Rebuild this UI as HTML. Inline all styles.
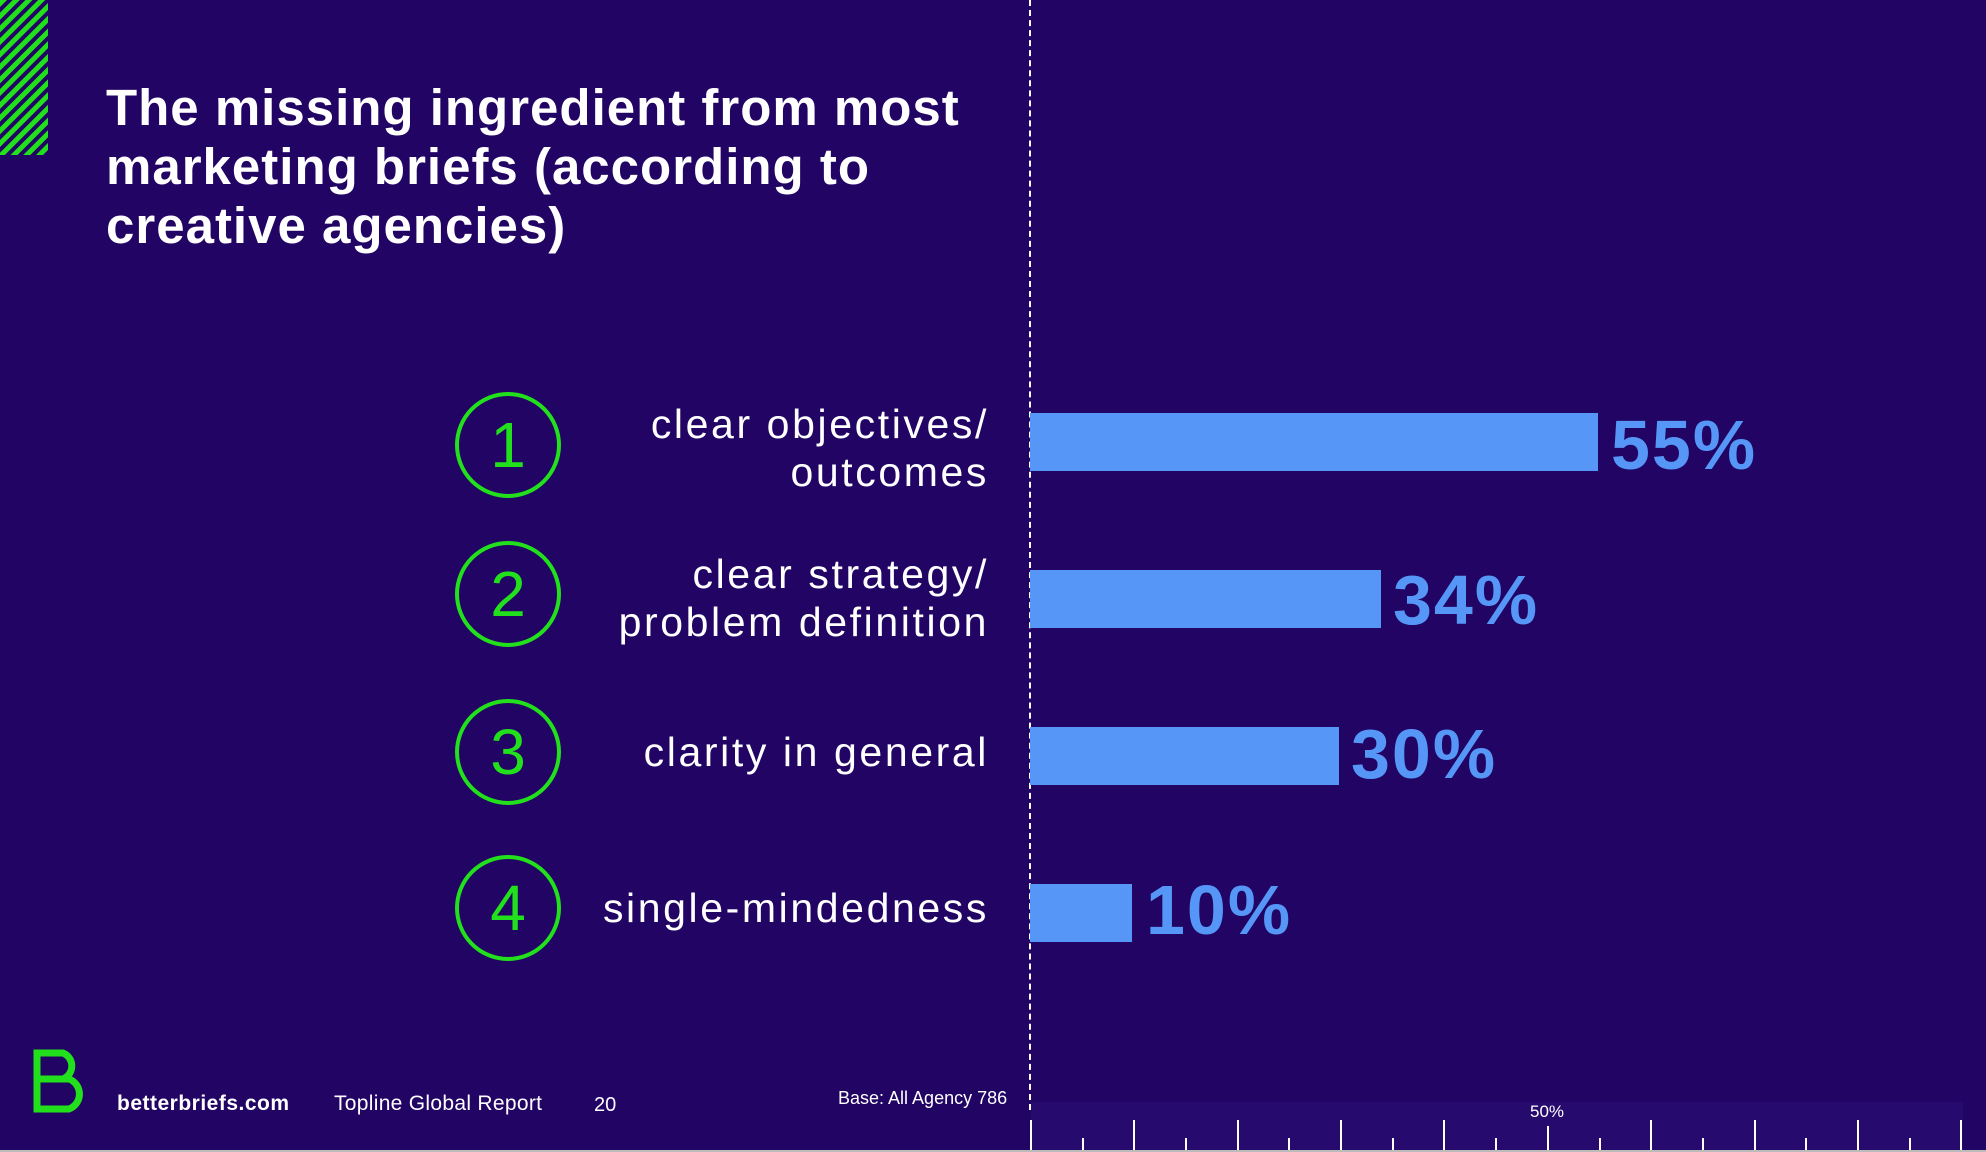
<!DOCTYPE html>
<html><head><meta charset="utf-8"><style>
body{margin:0;width:1986px;height:1152px;background:#210463;overflow:hidden;position:relative;font-family:"Liberation Sans",sans-serif;color:#fff}
.a{position:absolute}
.lbl{position:absolute;right:997px;text-align:right;font-size:41px;line-height:48px;white-space:nowrap;letter-spacing:2.6px}
.circ{position:absolute;left:455px;width:106px;height:106px;border:4px solid #22e01c;border-radius:50%;box-sizing:border-box;color:#22e01c;font-size:64px;text-align:center;line-height:98px}
.bar{position:absolute;left:1030px;height:58px;background:#5596f7}
.val{position:absolute;font-size:70px;font-weight:bold;color:#5596f7;line-height:80px;letter-spacing:2px}
</style></head><body>
<svg class="a" style="left:0;top:0" width="48" height="155"><defs><pattern id="p" width="9" height="9" patternUnits="userSpaceOnUse" patternTransform="rotate(45)"><rect width="9" height="9" fill="#210463"/><rect width="5" height="9" fill="#22e01c"/></pattern></defs><rect width="48" height="155" fill="url(#p)"/></svg>
<div class="a" style="left:106px;top:78px;font-size:51px;font-weight:bold;line-height:59px;letter-spacing:1px">The missing ingredient from most<br>marketing briefs (according to<br>creative agencies)</div>
<div class="a" style="left:1029px;top:0;height:1110px;border-left:2px dashed #fff"></div>

<div class="circ" style="top:392px">1</div>
<div class="circ" style="top:541px">2</div>
<div class="circ" style="top:699px">3</div>
<div class="circ" style="top:855px">4</div>

<div class="lbl" style="top:400px">clear objectives/<br>outcomes</div>
<div class="lbl" style="top:550px">clear strategy/<br>problem definition</div>
<div class="lbl" style="top:728px">clarity in general</div>
<div class="lbl" style="top:884px">single-mindedness</div>

<div class="bar" style="top:413px;width:568px"></div>
<div class="bar" style="top:570px;width:351px"></div>
<div class="bar" style="top:727px;width:309px"></div>
<div class="bar" style="top:884px;width:102px"></div>
<div class="val" style="left:1611px;top:405px">55%</div>
<div class="val" style="left:1393px;top:560px">34%</div>
<div class="val" style="left:1351px;top:714px">30%</div>
<div class="val" style="left:1146px;top:870px">10%</div>

<svg class="a" style="left:33px;top:1049px" width="60" height="64"><path d="M4 4 H30 A14 14 0 0 1 30 30 H4 Z M4 30 H36 A16 16 0 0 1 36 60 H4 Z" fill="none" stroke="#22e01c" stroke-width="7"/></svg>
<div class="a" style="left:117px;top:1092px;font-size:21px;font-weight:bold;letter-spacing:0.5px">betterbriefs.com</div>
<div class="a" style="left:334px;top:1092px;font-size:21px;letter-spacing:0.3px">Topline Global Report</div>
<div class="a" style="left:594px;top:1094px;font-size:20px">20</div>
<div class="a" style="left:838px;top:1088px;font-size:18px">Base: All Agency 786</div>

<div class="a" style="left:1031px;top:1102px;width:932px;height:48px;background:#260a6e"></div>
<svg class="a" style="left:0;top:1100px" width="1986" height="52">
<g stroke="#fff" stroke-width="2">
<line x1="1031" y1="20" x2="1031" y2="50"/><line x1="1083" y1="38" x2="1083" y2="50"/>
<line x1="1134" y1="20" x2="1134" y2="50"/><line x1="1186" y1="38" x2="1186" y2="50"/>
<line x1="1238" y1="20" x2="1238" y2="50"/><line x1="1289" y1="38" x2="1289" y2="50"/>
<line x1="1341" y1="20" x2="1341" y2="50"/><line x1="1393" y1="38" x2="1393" y2="50"/>
<line x1="1444" y1="20" x2="1444" y2="50"/><line x1="1496" y1="38" x2="1496" y2="50"/>
<line x1="1548" y1="26" x2="1548" y2="50"/><line x1="1600" y1="38" x2="1600" y2="50"/>
<line x1="1651" y1="20" x2="1651" y2="50"/><line x1="1703" y1="38" x2="1703" y2="50"/>
<line x1="1755" y1="20" x2="1755" y2="50"/><line x1="1806" y1="38" x2="1806" y2="50"/>
<line x1="1858" y1="20" x2="1858" y2="50"/><line x1="1910" y1="38" x2="1910" y2="50"/>
<line x1="1961" y1="20" x2="1961" y2="50"/>
</g></svg>
<div class="a" style="left:1530px;top:1102px;font-size:17px">50%</div>
<div class="a" style="left:0;top:1150px;width:1986px;height:2px;background:#bbb"></div>
</body></html>
